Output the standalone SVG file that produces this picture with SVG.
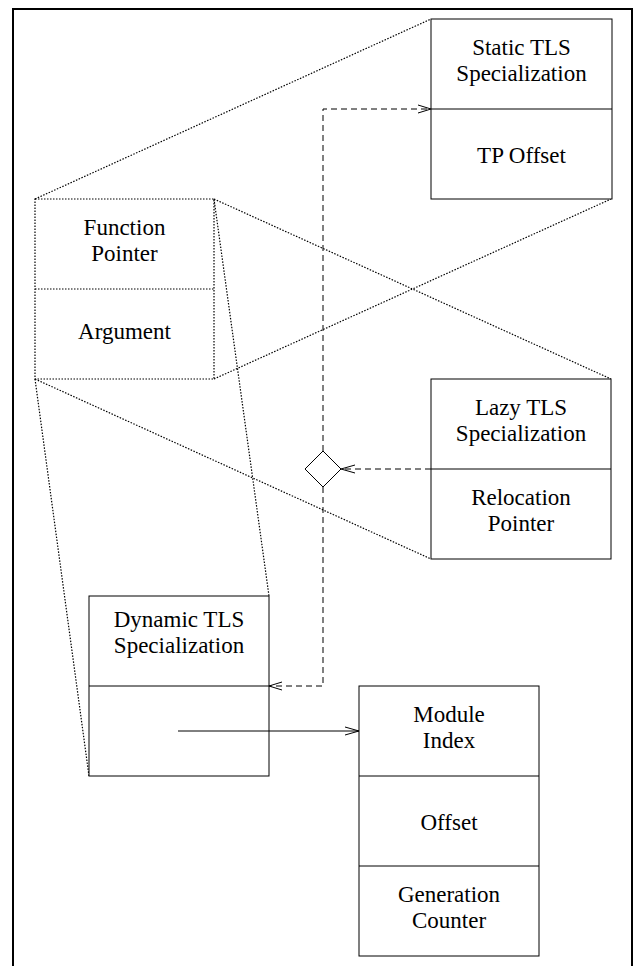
<svg xmlns="http://www.w3.org/2000/svg" width="633" height="966" viewBox="0 0 633 966">
<style>
.box{fill:#fff;stroke:#000;stroke-width:1}
.dbox{fill:none;stroke:#000;stroke-width:1.2;stroke-dasharray:1.5,1.5}
.sep{stroke:#000;stroke-width:1}
.dsep{stroke:#000;stroke-width:1.2;stroke-dasharray:1.5,1.5}
.proj{stroke:#000;stroke-width:1.2;stroke-dasharray:1.5,1.5;fill:none}
.dash{stroke:#000;stroke-width:1;stroke-dasharray:6,4;fill:none}
.solid{stroke:#000;stroke-width:1;fill:none}
.head{stroke:#000;stroke-width:1;fill:none}
text{font-family:"Liberation Serif","Tinos","Nimbus Roman","DejaVu Serif",serif;font-size:23px;fill:#000;text-anchor:middle}
</style>
<rect x="0" y="0" width="633" height="966" fill="#fff"/>
<rect x="13" y="9" width="619" height="980" fill="none" stroke="#000" stroke-width="2"/>

<g id="projections">
<line class="proj" x1="35" y1="199" x2="431" y2="19"/>
<line class="proj" x1="214" y1="199" x2="611" y2="379"/>
<line class="proj" x1="214" y1="379" x2="611" y2="199"/>
<line class="proj" x1="35" y1="379" x2="431" y2="559"/>
<line class="proj" x1="214" y1="199" x2="269" y2="596"/>
<line class="proj" x1="35" y1="379" x2="89" y2="776"/>
</g>

<g id="static-tls">
<rect class="box" x="431" y="19" width="181" height="180"/>
<line class="sep" x1="431" y1="109" x2="612" y2="109"/>
<text x="521.5" y="55">Static TLS</text>
<text x="521.5" y="81">Specialization</text>
<text x="521.5" y="163">TP Offset</text>
</g>

<g id="function-pointer">
<rect class="dbox" x="35" y="199" width="179" height="180"/>
<line class="dsep" x1="35" y1="289" x2="214" y2="289"/>
<text x="124.5" y="235">Function</text>
<text x="124.5" y="261">Pointer</text>
<text x="124.5" y="339">Argument</text>
</g>

<g id="lazy-tls">
<rect class="box" x="431" y="379" width="180" height="180"/>
<line class="sep" x1="431" y1="469" x2="611" y2="469"/>
<text x="521" y="415">Lazy TLS</text>
<text x="521" y="441">Specialization</text>
<text x="521" y="505">Relocation</text>
<text x="521" y="531">Pointer</text>
</g>

<g id="selector">
<polygon points="323,451 341,469 323,487 305,469" fill="#fff" stroke="#000" stroke-width="1"/>
</g>

<g id="dynamic-tls">
<rect class="box" x="89" y="596" width="180" height="180"/>
<line class="sep" x1="89" y1="686" x2="269" y2="686"/>
<text x="179" y="627">Dynamic TLS</text>
<text x="179" y="653">Specialization</text>
</g>

<g id="tls-index">
<rect class="box" x="359" y="686" width="180" height="270"/>
<line class="sep" x1="359" y1="776" x2="539" y2="776"/>
<line class="sep" x1="359" y1="866" x2="539" y2="866"/>
<text x="449" y="722">Module</text>
<text x="449" y="748">Index</text>
<text x="449" y="830">Offset</text>
<text x="449" y="902">Generation</text>
<text x="449" y="928">Counter</text>
</g>

<g id="connectors">
<polyline class="dash" points="323,451 323,109 431,109"/>
<polyline class="head" points="418,105 431,109 418,113"/>
<line class="dash" x1="431" y1="469" x2="341" y2="469"/>
<polyline class="head" points="355,465 341,469 355,473"/>
<polyline class="dash" points="323,487 323,686 269,686"/>
<polyline class="head" points="282,682 269,686 282,690"/>
<line class="solid" x1="178" y1="731" x2="359" y2="731"/>
<polyline class="head" points="345,727 359,731 345,735"/>
</g>
</svg>
